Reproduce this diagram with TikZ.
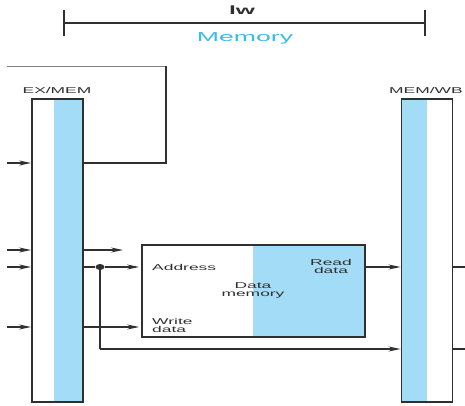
\documentclass[tikz,border=0pt]{standalone}
\usepackage{fontspec}
\setmainfont{Liberation Sans}
\usepackage{graphicx}
\usetikzlibrary{arrows.meta}
\definecolor{memblue}{HTML}{A3DCF6}
\definecolor{memtext}{HTML}{3CB9F0}
\definecolor{ln}{HTML}{303030}
\newcommand\stx[1]{\scalebox{2.05}[1]{#1}}
\tikzset{
  reg/.style={draw=ln, line width=1.9pt, minimum width=51pt, minimum height=303pt, inner sep=0pt},
  unit/.style={draw=ln, line width=1.7pt, minimum width=223pt, minimum height=92pt, inner sep=0pt},
  wire/.style={draw=ln, line width=1.3pt},
  arr/.style={wire, -{Stealth[length=12pt,width=5pt]}},
  lbl/.style={font=\fontsize{8.5}{8.5}\selectfont, text=ln, inner sep=0pt, align=center},
  dotst/.style={ellipse, fill=ln, minimum width=9pt, minimum height=6pt, inner sep=0pt}
}
\usetikzlibrary{shapes.geometric}
\begin{document}
\begin{tikzpicture}[x=1pt,y=-1pt]
\useasboundingbox (0,0) rectangle (465,405);
% stage bar
\coordinate (barl) at (64,23);
\coordinate (barr) at (425,23);
\draw[ln, line width=1.4pt] (barl) -- (barr);
\draw[ln, line width=1.7pt] ([yshift=-13pt]barl) -- ([yshift=13pt]barl);
\draw[ln, line width=1.7pt] ([yshift=-13pt]barr) -- ([yshift=13pt]barr);
\node[font=\fontsize{12}{12}\selectfont\bfseries, text=ln, inner sep=0pt] (lw) at (242,10) {\stx{lw}};
\node[font=\fontsize{13}{13}\selectfont, text=memtext, inner sep=0pt] (memtitle) at (245,38) {\stx{Memory}};
% fills
\fill[memblue] (54,99) rectangle (83,402);
\fill[memblue] (253,245) rectangle (365,337);
\fill[memblue] (401,99) rectangle (427,402);
% registers and memory
\node[reg] (exmem) at (57.5,250.5) {};
\node[reg] (memwb) at (427,250.5) {};
\node[unit] (dmem) at (253.5,291) {};
\node[lbl] (exlbl) at (57,90) {\stx{EX/MEM}};
\node[lbl] (wblbl) at (426,90) {\stx{MEM/WB}};
\node[lbl, anchor=west] (addr) at (152,267) {\stx{Address}};
\node[lbl] (dm) at (253,290) {\stx{Data}\\[-0.5pt]\stx{memory}};
\node[lbl] (rd) at (331,266) {\stx{Read}\\[-0.5pt]\stx{data}};
\node[lbl, anchor=west, align=left] (wd) at (152,325) {\stx{Write}\\[-0.5pt]\stx{data}};
% feedback line at top
\coordinate (fbA) at (7,66);
\coordinate (fbB) at (166,66);
\coordinate (fbC) at (166,163);
\draw[gray, line width=1pt] (fbA) -- (fbB);
\draw[wire, line width=1.6pt] (fbB) -- (fbC) -- (exmem.east |- fbC);
% inputs
\coordinate (in1) at (7,163);
\coordinate (in2) at (7,250);
\coordinate (in3) at (7,267);
\coordinate (in4) at (7,327);
\foreach \c in {in1,in2,in3,in4} \draw[arr] (\c) -- (exmem.west |- \c);
% EX/MEM outputs
\coordinate (o1) at (123,250);
\draw[arr] (exmem.east |- o1) -- (o1);
\node[dotst] (dot) at (100,267) {};
\draw[wire] (exmem.east |- dot) -- (dot);
\draw[arr] (dot) -- ([xshift=-2pt]dmem.west |- dot);
\coordinate (wdy) at (0,327);
\draw[arr] (exmem.east |- wdy) -- ([xshift=-2pt]dmem.west |- wdy);
\coordinate (by) at (0,349);
\draw[wire] (dot.center) -- (dot.center |- by);
\draw[arr] (dot.center |- by) -- (memwb.west |- by);
\draw[arr] (dmem.east |- dot) -- (memwb.west |- dot);
% MEM/WB outputs
\coordinate (e1) at (465,267);
\coordinate (e2) at (465,349);
\draw[wire] (memwb.east |- e1) -- (e1);
\draw[wire] (memwb.east |- e2) -- (e2);
\end{tikzpicture}
\end{document}
